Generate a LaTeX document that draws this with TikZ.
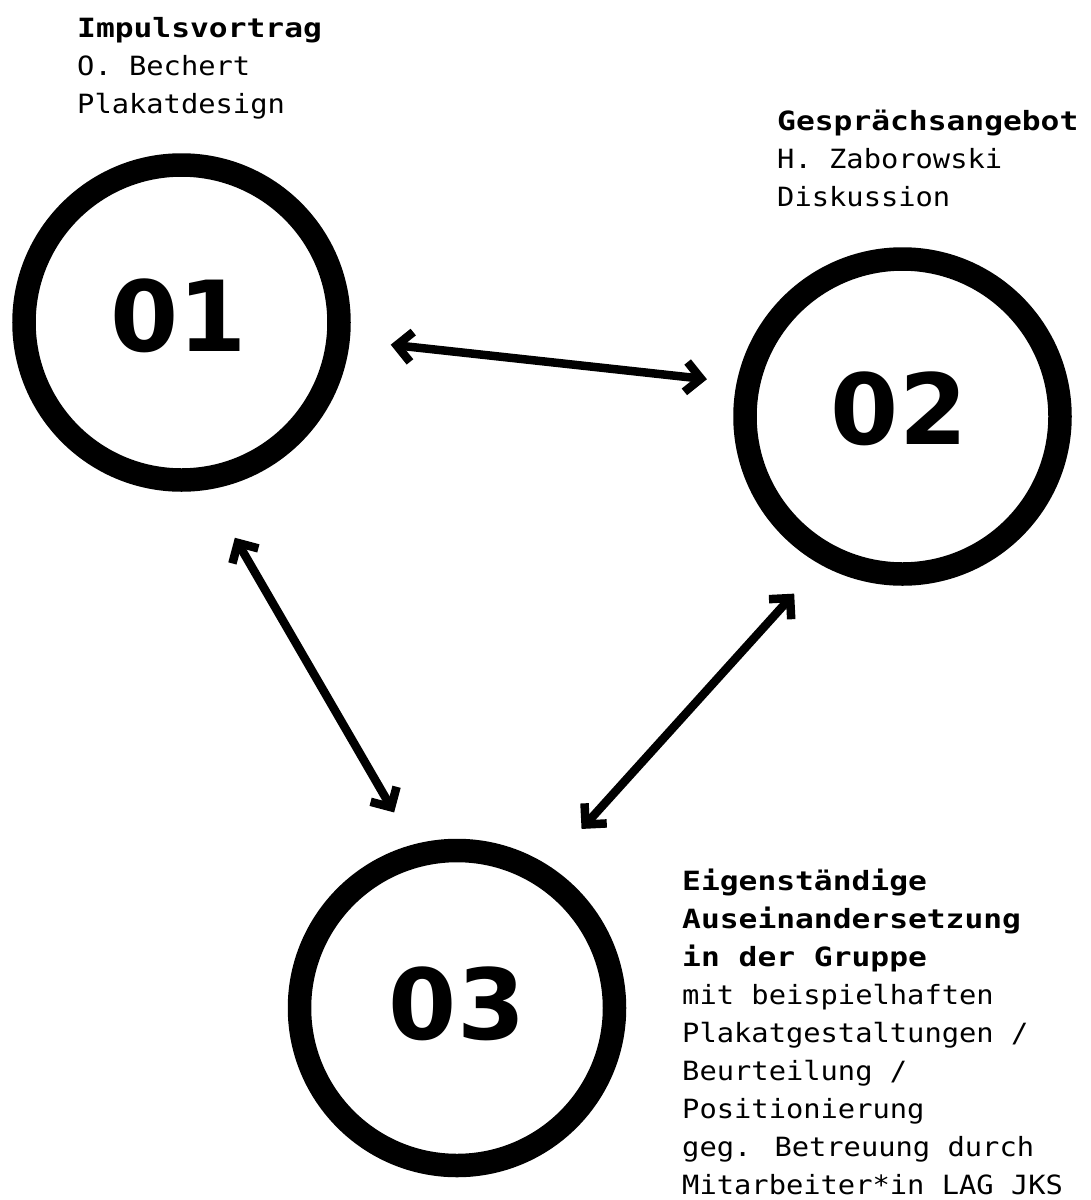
\documentclass[tikz,border=0pt]{standalone}
\usepackage{fontspec}
\newfontfamily\lblfont[FakeStretch=1.085, BoldFeatures={FakeStretch=1.18}]{DejaVu Sans Mono}
\newfontfamily\numfont{DejaVu Sans}
\usetikzlibrary{arrows.meta}
\begin{document}
\begin{tikzpicture}[x=1pt,y=-1pt,
  ring/.style={circle, draw=black, line width=23.5pt, minimum size=315pt, inner sep=0pt, outer sep=0pt},
  num/.style={font=\numfont\bfseries\fontsize{98}{98}\selectfont, inner sep=0pt, anchor=center},
  info/.style={font=\lblfont\fontsize{26.5}{38}\selectfont, align=left, anchor=base west, inner sep=0pt},
  barb/.tip={Straight Barb[length=15pt,width=30pt,sharp]},
  biarrow/.style={line width=8.5pt, barb-barb}
]
\fill[white] (0,0) rectangle (1091,1200);
\useasboundingbox (0,0) rectangle (1091,1200);

\node[ring] (c1) at (181.5,322.5) {};
\node[ring] (c2) at (902.5,416.5) {};
\node[ring] (c3) at (457,1008) {};

\node[num] (n1) at (178.5,315.5) {01};
\node[num] (n2) at (899,409) {02};
\node[num] (n3) at (457,1004) {03};

\node[info] (t1) at (77,113) {\textbf{Impulsvortrag}\\O. Bechert\\Plakatdesign};
\node[info] (t2) at (777,206) {\textbf{Gesprächsangebot}\\H. Zaborowski\\Diskussion};
\node[info] (t3) at (682,1194) {\textbf{Eigenständige}\\\textbf{Auseinandersetzung}\\\textbf{in der Gruppe}\\mit beispielhaften\\Plakatgestaltungen /\\Beurteilung /\\Positionierung\\geg. Betreuung durch\\Mitarbeiter*in LAG JKS};

\draw[biarrow, shorten <=52.9pt, shorten >=41.8pt] (c1.-6.1) -- (c2.168.3);
\draw[biarrow, shorten <=68.1pt, shorten >=49.4pt] (c1.-83.7) -- (c3.104.8);
\draw[biarrow, shorten <=51.3pt, shorten >=61.3pt] (c2.-118.5) -- (c3.58.7);
\end{tikzpicture}
\end{document}
